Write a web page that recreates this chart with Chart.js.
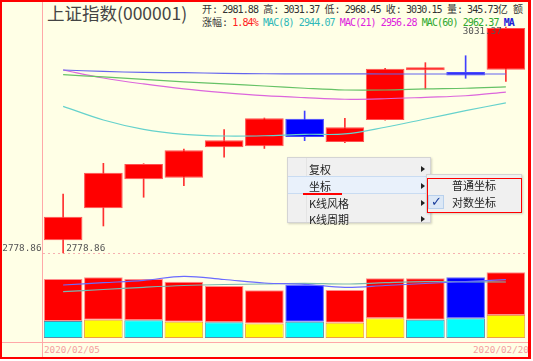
<!DOCTYPE html>
<html>
<head>
<meta charset="utf-8">
<script src="https://cdn.jsdelivr.net/npm/chart.js@4.4.1/dist/chart.umd.min.js"></script>
<style>
html, body { margin: 0; padding: 0; background: #fff; }
#wrap { position: relative; width: 533px; height: 361px; overflow: hidden; }
#bg { position: absolute; left: 0; top: 0; width: 531px; height: 359px; background: #ffffe6; }
#frame { position: absolute; left: 0; top: 0; width: 531px; height: 359px; box-sizing: border-box;
  border: 2px solid #ff0000; border-right-width: 3px; z-index: 20; pointer-events: none; }
canvas { position: absolute; left: 0; }
.vline { position: absolute; left: 42px; top: 0; width: 1px; height: 359px; background: #ffa8a8; }
.hline { position: absolute; left: 0; top: 342px; width: 531px; height: 1px; background: #ffa8a8; }
.title { position: absolute; left: 47px; top: 3px; font: 17.5px/19px "Noto Sans CJK SC", sans-serif; color: #444; white-space: pre; }
.info { position: absolute; left: 202px; font: 10px/10px "DejaVu Sans Mono", "Noto Sans CJK SC", monospace;
  letter-spacing: -0.9px; color: #333; white-space: pre; }
.info .c { font-family: "Noto Sans CJK SC", sans-serif; letter-spacing: 0; }
.date { position: absolute; top: 345px; font: 9.3px/9px "DejaVu Sans Mono", monospace; color: #f4a0a0; white-space: pre; }
#menu { position: absolute; left: 287px; top: 157px; width: 144px; height: 66px; background: #f0f0f0;
  border: 1px solid #d4d4d4; box-sizing: border-box; box-shadow: 1px 1px 2px rgba(0,0,0,0.18); z-index: 5; }
#sub { position: absolute; left: 426px; top: 174px; width: 96px; height: 39px; background: #f0f0f0;
  border: 1px solid #d4d4d4; box-sizing: border-box; box-shadow: 1px 1px 2px rgba(0,0,0,0.18); z-index: 6; }
.it { position: absolute; height: 16px; font: 11px/16px "Noto Sans CJK SC", sans-serif; color: #1e1e1e; white-space: pre; }
.arr { position: absolute; left: 133px; width: 0; height: 0; border-left: 4px solid #222;
  border-top: 3px solid transparent; border-bottom: 3px solid transparent; }
</style>
</head>
<body>
<div id="wrap">
  <div id="bg"></div>
  <div class="vline"></div>
  <div class="hline"></div>
  <div class="title">上证指数(000001)</div>
  <div class="info" style="top:4px"><span class="c">开</span>: 2981.88 <span class="c">高</span>: 3031.37 <span class="c">低</span>: 2968.45 <span class="c">收</span>: 3030.15 <span class="c">量</span>: 345.73<span class="c">亿</span> <span class="c">额</span></div>
  <div class="info" style="top:17px"><span class="c">涨幅</span>: <span style="color:#ff2020">1.84%</span> <span style="color:#30b8b8">MAC(8) 2944.07</span> <span style="color:#dd22dd">MAC(21) 2956.28</span> <span style="color:#2ea82e">MAC(60) 2962.37</span> <span style="color:#2020d8;font-weight:bold">MA</span></div>
  <canvas id="price" width="531" height="242" style="top:20px"></canvas>
  <canvas id="vol" width="531" height="72" style="top:266px"></canvas>
  <div class="date" id="d0" style="left:44px"></div>
  <div class="date" id="d1" style="left:473px"></div>

  <div id="menu">
    <div style="position:absolute;left:18px;top:0;width:1px;height:64px;background:#e4e4e4"></div>
    <div style="position:absolute;left:0;top:18px;width:142px;height:16px;background:#e9f1fb;border-top:1px solid #c9dcf2;border-bottom:1px solid #c9dcf2"></div>
    <div class="it" style="left:21px;top:3px">复权</div>
    <div class="it" style="left:21px;top:20px">坐标</div>
    <div class="it" style="left:21px;top:37px">K线风格</div>
    <div class="it" style="left:21px;top:53px">K线周期</div>
    <div class="arr" style="top:8px"></div>
    <div class="arr" style="top:25px"></div>
    <div class="arr" style="top:42px"></div>
    <div class="arr" style="top:58px"></div>
    <div style="position:absolute;left:15px;top:35px;width:39px;height:1.5px;background:#ff0000"></div>
  </div>
  <div id="sub">
    <div style="position:absolute;left:1px;top:20px;width:16px;height:14px;background:#dce8f6;border:1px solid #b8d0ec;box-sizing:border-box"></div>
    <div style="position:absolute;left:4px;top:19px;font:13px/16px 'DejaVu Sans',sans-serif;color:#1a3c9a">✓</div>
    <div class="it" style="left:25px;top:2px">普通坐标</div>
    <div class="it" style="left:25px;top:19px">对数坐标</div>
    <div style="position:absolute;left:0px;top:3px;width:95px;height:35px;border:1.5px solid #ff0000;box-sizing:border-box"></div>
  </div>
  <div id="frame"></div>
</div>

<script>
// trading days
const dates = ['2020/02/05', '2020/02/06', '2020/02/07', '2020/02/10', '2020/02/11', '2020/02/12',
               '2020/02/13', '2020/02/14', '2020/02/17', '2020/02/18', '2020/02/19', '2020/02/20'];

// candles
const opens  = [2792.5, 2827.1, 2858.8, 2860.6, 2894.2, 2895.3, 2926.2, 2900.1, 2924.8, 2981.2, 2979.3, 2981.88];
const closes = [2817.9, 2866.1, 2875.7, 2890.9, 2902.0, 2926.7, 2905.7, 2916.6, 2983.1, 2984.7, 2975.4, 3030.15];
const highs  = [2842.7, 2876.4, 2876.0, 2892.3, 2913.9, 2927.0, 2934.9, 2926.7, 2983.4, 2990.0, 2998.0, 3031.37];
const lows   = [2778.86, 2807.9, 2839.1, 2851.8, 2883.1, 2892.9, 2901.6, 2899.5, 2924.5, 2959.9, 2972.1, 2968.45];

// moving averages
const ma8  = [2940.2, 2924.8, 2914.3, 2908.7, 2906.8, 2907.1, 2908.7, 2909.1, 2916.6, 2925.9, 2935.3, 2944.07];
const ma21 = [2981.6, 2972.4, 2965.6, 2959.9, 2955.7, 2952.3, 2950.0, 2948.2, 2948.8, 2950.4, 2952.2, 2956.28];
const ma60 = [2976.2, 2973.6, 2970.8, 2968.0, 2965.7, 2963.3, 2960.7, 2958.7, 2958.7, 2959.9, 2960.7, 2962.37];
const maLong = [2981.6, 2979.9, 2978.9, 2978.5, 2977.8, 2977.3, 2977.2, 2977.1, 2977.0, 2977.0, 2977.0, 2977.0];

// volume (亿), split in two parts
const volUpper = [221.0, 223.1, 217.4, 210.5, 191.0, 175.2, 193.1, 172.1, 210.4, 217.8, 215.7, 224.7];
const volLower = [89.5, 96.3, 93.1, 85.8, 82.6, 76.3, 85.8, 80.5, 103.7, 96.3, 103.7, 121.03];
const volMaA = [278.9, 291.0, 303.1, 324.7, 307.8, 289.4, 282.6, 266.8, 276.3, 286.8, 297.3, 306.8];
const volMaB = [243.6, 255.2, 266.8, 276.3, 281.5, 284.1, 287.8, 284.1, 291.0, 296.3, 295.7, 294.7];

const lowerKinds = ['c', 'y', 'c', 'y', 'c', 'y', 'c', 'y', 'y', 'c', 'c', 'y'];

const isUp = opens.map((o, i) => closes[i] >= o);

document.getElementById('d0').textContent = dates[0];
document.getElementById('d1').textContent = dates[dates.length - 1];

// low / high markers and the dotted low line
const markerPlugin = {
    id: 'markers',
    beforeDatasetsDraw(chart) {
        const {ctx, chartArea, scales: {y}} = chart;
        const yl = Math.round(y.getPixelForValue(Math.min(...lows))) + 0.5;
        ctx.save();
        ctx.strokeStyle = '#f6b0b0';
        ctx.lineWidth = 1;
        ctx.setLineDash([2, 3]);
        ctx.beginPath();
        ctx.moveTo(chartArea.left, yl);
        ctx.lineTo(chartArea.right, yl);
        ctx.stroke();
        ctx.restore();
    },
    afterDatasetsDraw(chart) {
        const {ctx, chartArea, scales: {x, y}} = chart;
        const lowVal = Math.min(...lows);
        const highVal = Math.max(...highs);
        const yl = y.getPixelForValue(lowVal);
        const yh = y.getPixelForValue(highVal);
        ctx.save();
        ctx.font = '9.3px "DejaVu Sans Mono", monospace';
        ctx.fillStyle = '#555';
        ctx.textBaseline = 'bottom';
        ctx.textAlign = 'right';
        ctx.fillText(lowVal.toFixed(2), chartArea.left - 1.5, yl);
        ctx.textAlign = 'left';
        ctx.fillText(lowVal.toFixed(2), x.getPixelForValue(lows.indexOf(lowVal)) + 3, yl);
        ctx.textBaseline = 'top';
        ctx.textAlign = 'right';
        ctx.fillText(highVal.toFixed(2), x.getPixelForValue(highs.indexOf(highVal)) - 4, yh);
        ctx.restore();
    }
};

function maLine(data, color) {
    return {
        type: 'line',
        data: data,
        borderColor: color,
        borderWidth: 1.2,
        pointRadius: 0,
        tension: 0.35,
        fill: false,
        order: 0
    };
}

new Chart(document.getElementById('price'), {
    type: 'bar',
    data: {
        labels: dates,
        datasets: [
            maLine(maLong, '#6464ee'),
            maLine(ma60, '#66c266'),
            maLine(ma21, '#dc66dc'),
            maLine(ma8, '#66d2cc'),
            {
                data: dates.map((d, i) => [opens[i], closes[i]]),
                backgroundColor: isUp.map(u => u ? '#ff0000' : '#0000ff'),
                borderColor: isUp.map(u => u ? '#ff5050' : '#4848ff'),
                borderWidth: 1,
                borderSkipped: false,
                grouped: false,
                categoryPercentage: 1,
                barPercentage: 0.96,
                order: 1
            },
            {
                data: dates.map((d, i) => [lows[i], highs[i]]),
                backgroundColor: isUp.map(u => u ? '#ff3030' : '#4040ff'),
                barThickness: 1,
                grouped: false,
                order: 2
            }
        ]
    },
    options: {
        responsive: false,
        animation: false,
        layout: { padding: { left: 43, right: 5, top: 0, bottom: 0 } },
        plugins: { legend: { display: false }, tooltip: { enabled: false } },
        scales: {
            x: { display: false },
            y: { type: 'logarithmic', display: false, min: 2769.25, max: 3039.5 }
        }
    },
    plugins: [markerPlugin]
});

new Chart(document.getElementById('vol'), {
    type: 'bar',
    data: {
        labels: dates,
        datasets: [
            { type: 'line', data: volMaA, stack: 'ma1', borderColor: '#6b6bff', borderWidth: 1.2, pointRadius: 0, tension: 0.35, order: 0 },
            { type: 'line', data: volMaB, stack: 'ma2', borderColor: '#78b8b0', borderWidth: 1.2, pointRadius: 0, tension: 0.35, order: 0 },
            {
                data: volLower,
                stack: 'v',
                backgroundColor: lowerKinds.map(k => k === 'c' ? '#00ffff' : '#ffff00'),
                borderColor: lowerKinds.map(k => k === 'c' ? '#5a8ca8' : '#f0a040'),
                borderWidth: 1,
                borderSkipped: false,
                categoryPercentage: 1,
                barPercentage: 0.96,
                order: 1
            },
            {
                data: volUpper,
                stack: 'v',
                backgroundColor: isUp.map(u => u ? '#ff0000' : '#0000ff'),
                borderColor: isUp.map(u => u ? '#ff8c8c' : '#6a6aff'),
                borderWidth: 1,
                borderSkipped: false,
                categoryPercentage: 1,
                barPercentage: 0.96,
                order: 1
            }
        ]
    },
    options: {
        responsive: false,
        animation: false,
        layout: { padding: { left: 43, right: 5, top: 0, bottom: 0 } },
        plugins: { legend: { display: false }, tooltip: { enabled: false } },
        scales: {
            x: { display: false },
            y: { display: false, stacked: true, min: 0, max: 378.9 }
        }
    }
});
</script>
</body>
</html>
